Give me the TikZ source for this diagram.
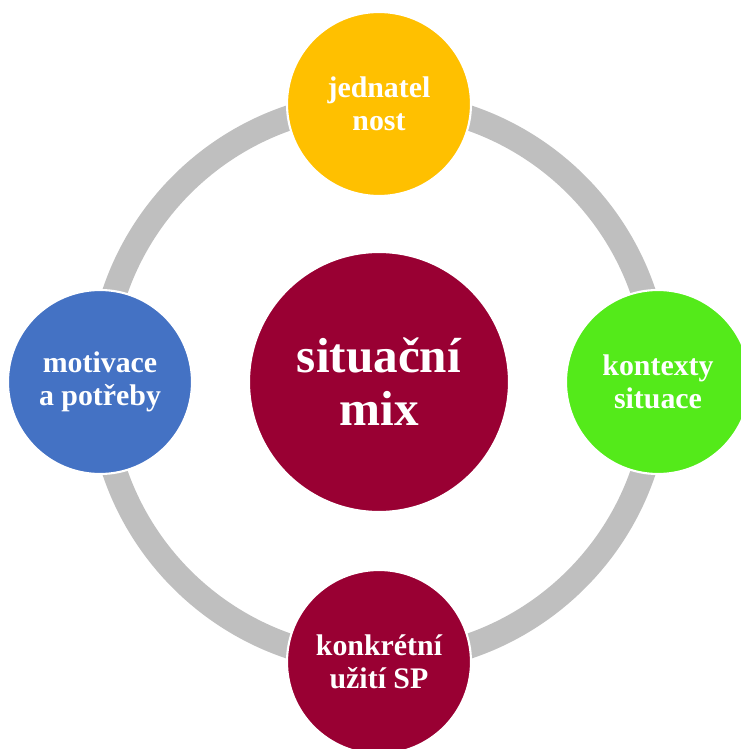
\documentclass[tikz,border=0pt]{standalone}
\usepackage{fontspec}
\setmainfont{Liberation Serif}
\definecolor{ringgray}{RGB}{191, 191, 191}
\definecolor{gold1}{RGB}{255, 192, 0}
\definecolor{blue1}{RGB}{68, 114, 196}
\definecolor{green1}{RGB}{84, 234, 26}
\definecolor{maroon1}{RGB}{153, 0, 51}
\usepackage{tikz}
\usetikzlibrary{positioning}
\tikzset{
  bubble/.style={circle, draw=white, line width=1.2pt, minimum size=3.68cm, inner sep=0pt,
    align=center, text=white, font=\fontsize{17}{18.5}\selectfont\bfseries},
  topbubble/.style={bubble, fill=gold1},
  leftbubble/.style={bubble, fill=blue1},
  rightbubble/.style={bubble, fill=green1},
  bottombubble/.style={bubble, fill=maroon1},
  hubnode/.style={bubble, fill=maroon1, minimum size=5.2cm, font=\fontsize{28}{30}\selectfont\bfseries},
  ringline/.style={ringgray, line width=0.5cm},
}
\begin{document}
\begin{tikzpicture}
  \useasboundingbox (-7.58,-7.34) rectangle (7.22,7.64);
  % the ring
  \draw[ringline] (0,0) circle (5.58cm);
  \node[hubnode] (mix) at (0,0) {situační\\mix};
  \node[topbubble] (jed) at (90:5.56) {jednatel\\nost};
  \node[leftbubble] (mot) at (180:5.58) {motivace\\a potřeby};
  \node[rightbubble] (kon) at (0:5.58) {kontexty\\situace};
  \node[bottombubble] (uz) at (270:5.6) {konkrétní\\užití SP};
\end{tikzpicture}
\end{document}
